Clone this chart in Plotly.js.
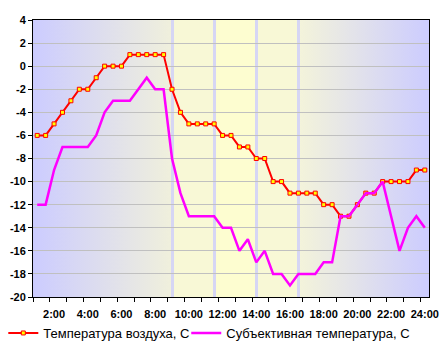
<!DOCTYPE html>
<html><head><meta charset="utf-8">
<script src="https://cdn.plot.ly/plotly-3.0.1.min.js"></script>
<style>html,body{margin:0;padding:0;background:#fff;}#chart{width:442px;height:350px;}</style>
</head><body><div id="chart"></div>
<script>
const times = ["1:00","1:30","2:00","2:30","3:00","3:30","4:00","4:30","5:00","5:30","6:00","6:30",
  "7:00","7:30","8:00","8:30","9:00","9:30","10:00","10:30","11:00","11:30","12:00","12:30",
  "13:00","13:30","14:00","14:30","15:00","15:30","16:00","16:30","17:00","17:30","18:00","18:30",
  "19:00","19:30","20:00","20:30","21:00","21:30","22:00","22:30","23:00","23:30","24:00"];
const airTemp = [-6,-6,-5,-4,-3,-2,-2,-1,0,0,0,1,1,1,1,1,
  -2,-4,-5,-5,-5,-5,-6,-6,-7,-7,-8,-8,-10,-10,-11,-11,
  -11,-11,-12,-12,-13,-13,-12,-11,-11,-10,-10,-10,-10,-9,-9];
const feltTemp = [-12,-12,-9,-7,-7,-7,-7,-6,-4,-3,-3,-3,-2,-1,-2,-2,
  -8,-11,-13,-13,-13,-13,-14,-14,-16,-15,-17,-16,-18,-18,-19,-18,
  -18,-18,-17,-17,-13,-13,-12,-11,-11,-10,-13,-16,-14,-13,-14];
const seriesNames = ["Температура воздуха, С","Субъективная температура, С"];
const xTickLabels = ["2:00","4:00","6:00","8:00","10:00","12:00","14:00","16:00","18:00","20:00","22:00","24:00"];
const yTickValues = [4,2,0,-2,-4,-6,-8,-10,-12,-14,-16,-18,-20];

const xIdx = times.map((t,i)=>i);
const xTickVals = xTickLabels.map(l=>times.indexOf(l));

// background picture for the plot area
function makeBg(){
  const W=396,H=277;
  const c=document.createElement('canvas'); c.width=W; c.height=H;
  const g=c.getContext('2d');
  const lg=g.createLinearGradient(0,0,139,0);
  lg.addColorStop(0,'#ccccff'); lg.addColorStop(1,'#f0f0dc');
  g.fillStyle=lg; g.fillRect(0,0,139,H);
  g.fillStyle='#f8f8d6'; g.fillRect(139,0,42,H);
  g.fillStyle='#fdfdd0'; g.fillRect(181,0,42,H);
  g.fillStyle='#f8f8d6'; g.fillRect(223,0,42,H);
  const rg=g.createLinearGradient(265,0,W,0);
  rg.addColorStop(0,'#f4f4da'); rg.addColorStop(1,'#ccccff');
  g.fillStyle=rg; g.fillRect(265,0,W-265,H);
  g.fillStyle='#d6d6f4';
  [139,181,223,265].forEach(x=>g.fillRect(x-1,0,3,H));
  return c.toDataURL('image/png');
}

const font = {family:'"Liberation Sans", Arial, sans-serif', size:11, color:'#000'};
const legendFont = {family:font.family, size:13, color:'#000'};

const traces = [
  {x:xIdx, y:airTemp, name:seriesNames[0], type:'scatter', mode:'lines+markers',
   line:{color:'#ff0000', width:2}, legend:'legend',
   marker:{symbol:'square', size:4, color:'#ffff00', line:{color:'#ff0000', width:1}}},
  {x:xIdx, y:feltTemp, name:seriesNames[1], type:'scatter', mode:'lines',
   line:{color:'#ff00ff', width:2.5}, legend:'legend2'}
];

const layout = {
  width:442, height:350,
  margin:{l:33, r:13, t:20, b:53, autoexpand:false},
  paper_bgcolor:'#ffffff', plot_bgcolor:'#ffffff',
  font:font,
  showlegend:true,
  legend:{orientation:'h', x:-0.075, xanchor:'left', y:-0.13, yanchor:'middle',
    font:legendFont, bgcolor:'rgba(0,0,0,0)'},
  legend2:{orientation:'h', x:0.387, xanchor:'left', y:-0.13, yanchor:'middle',
    font:legendFont, bgcolor:'rgba(0,0,0,0)'},
  xaxis:{type:'linear', range:[-0.5, times.length-0.5], tickmode:'array',
    tickvals:xTickVals, ticktext:xTickLabels, ticks:'', ticklabelstandoff:7, showgrid:false, zeroline:false,
    showline:true, mirror:true, linecolor:'#000', linewidth:1,
    tickfont:{family:font.family, size:11, color:'#000', weight:'bold'},
    minor:{tickmode:'linear', tick0:-0.5, dtick:2, ticks:'outside', ticklen:4, tickcolor:'#000', showgrid:false}},
  yaxis:{range:[-20,4], tickmode:'array', tickvals:yTickValues, ticktext:yTickValues.map(String),
    ticks:'outside', ticklen:4, tickcolor:'#000', showgrid:true, gridcolor:'#c0c0c0', gridwidth:1,
    zeroline:false, showline:true, mirror:true, linecolor:'#000', linewidth:1,
    tickfont:{family:font.family, size:11, color:'#000', weight:'bold'}},
  images:[{source:makeBg(), xref:'paper', yref:'paper', x:0, y:1, sizex:1, sizey:1,
    sizing:'stretch', xanchor:'left', yanchor:'top', layer:'below'}]
};

Plotly.newPlot('chart', traces, layout, {displayModeBar:false, staticPlot:true});
</script>
</body></html>
